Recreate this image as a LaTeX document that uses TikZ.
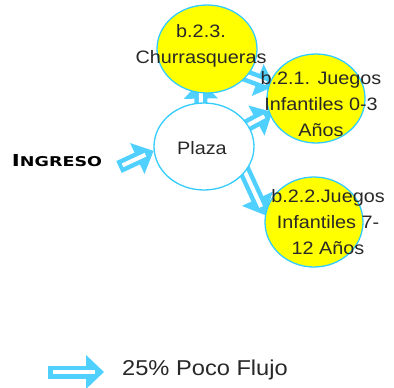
\documentclass[tikz,border=0pt]{standalone}
\usepackage{fontspec}
\setmainfont{Liberation Sans}[FakeStretch=1.1]
\newfontfamily\ingfont{DejaVu Sans}[FakeStretch=1.3]
\usetikzlibrary{shapes.geometric,arrows.meta}
\definecolor{cy}{RGB}{80,208,255}
\definecolor{bd}{RGB}{51,204,255}
\definecolor{yl}{RGB}{255,255,0}
\definecolor{tx}{RGB}{40,40,40}
\pgfdeclarelayer{bg}
\pgfdeclarelayer{paper}
\pgfsetlayers{paper,bg,main}
\tikzset{
 blob/.style={ellipse, draw=bd, line width=1.3pt, minimum width=100pt, minimum height=88pt, inner sep=0pt},
 lbl/.style={align=center, text=tx, font=\fontsize{18}{26}\selectfont, inner sep=0pt},
 flow/.style={draw=cy, line width=13pt, -{Triangle[width=33pt,length=18pt]}},
 flowcore/.style={draw=white, line width=4pt},
}
\begin{document}
\begin{tikzpicture}[x=1pt,y=-1pt]
\begin{pgfonlayer}{paper}
\fill[white] (0,0) rectangle (394,388);
\end{pgfonlayer}
\path[use as bounding box] (0,0) rectangle (394,388);
% circles
\node[blob, fill=yl] (churr) at (207,49) {};
\node[blob, fill=white, minimum height=87pt] (plaza) at (204,146.5) {};
\node[blob, fill=yl, minimum width=98pt, minimum height=89pt] (b21) at (316,98.5) {};
\node[blob, fill=yl, minimum width=98pt, minimum height=90pt] (b22) at (314,222) {};
% free ends
\coordinate (ingT) at (119,167);
\coordinate (legT) at (48,372);
\coordinate (legH) at (104,372);
% connectors behind
\begin{pgfonlayer}{bg}
\draw[flow, shorten <=-17pt, shorten >=-12.7pt] (plaza.94) -- (churr.262);
\draw[flowcore, shorten <=-12pt, shorten >=-3.7pt] (plaza.94) -- (churr.262);
\draw[flow, shorten <=-19pt, shorten >=-6pt] (churr.326) -- (b21.163);
\draw[flowcore, shorten <=-14pt, shorten >=3pt] (churr.326) -- (b21.163);
\draw[flow, shorten <=-17pt, shorten >=-3.5pt] (plaza.26) -- (b21.198);
\draw[flowcore, shorten <=-12pt, shorten >=5.5pt] (plaza.26) -- (b21.198);
\draw[flow, shorten <=-24pt, shorten >=0pt] (plaza.328) -- (b22.172);
\draw[flowcore, shorten <=-19pt, shorten >=9pt] (plaza.328) -- (b22.172);
\draw[flow] (ingT) -- (plaza.185);
\draw[flowcore, shorten <=4pt, shorten >=9pt] (ingT) -- (plaza.185);
\end{pgfonlayer}
% legend arrow
\draw[flow] (legT) -- (legH);
\draw[flowcore, shorten <=5pt, shorten >=9pt] (legT) -- (legH);
% texts
\node[lbl] (churrtxt) at (201,45.5) {b.2.3.\\Churrasqueras};
\node[lbl] (plazatxt) at (202,148) {Plaza};
\node[lbl] (b21txt) at (321,104) {b.2.1. Juegos\\Infantiles 0-3\\Años};
\node[lbl] (b22txt) at (328,222) {b.2.2.Juegos\\Infantiles 7-\\12 Años};
\node[font=\ingfont\bfseries, text=black, inner sep=0pt] (ingreso) at (57,161) {\fontsize{16.5}{16}\selectfont I\fontsize{13.5}{13}\selectfont NGRESO};
\node[anchor=west, text=tx, font=\fontsize{21.5}{24}\selectfont, inner sep=0pt] (legtxt) at (122,370) {25\% Poco Flujo};
\end{tikzpicture}
\end{document}
